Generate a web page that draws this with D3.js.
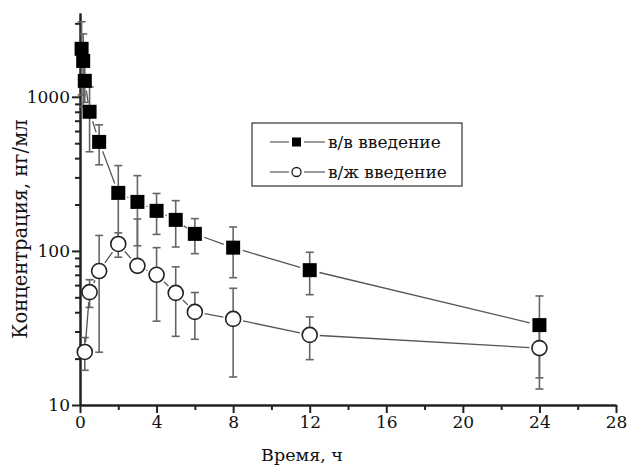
<!DOCTYPE html>
<html>
<head>
<meta charset="utf-8">
<script src="https://cdn.jsdelivr.net/npm/d3@7"></script>
<style>
  body { margin: 0; background: #fff; }
</style>
</head>
<body>
<div id="chart"></div>
<script>
// в/в введение (squares)
var ivTime = [0.083, 0.167, 0.25, 0.5, 1, 2, 3, 4, 5, 6, 8, 12, 24];
var ivConc = [2050, 1710, 1270, 800, 510, 238, 208, 182, 159, 129, 105, 75, 33];
var ivSd = [1020, 850, 350, 360, 148, 120, 100, 54, 53, 33, 38, 23, 18];
// в/ж введение (circles)
var poTime = [0.25, 0.5, 1, 2, 3, 4, 5, 6, 8, 12, 24];
var poConc = [22.1, 54, 74, 111, 80, 70, 53.4, 40.2, 36.2, 28.5, 23.4];
var poSd = [5.3, 11, 52, 20, 81, 35, 25.5, 13.5, 21, 8.8, 10.7];

var xTicks = [0, 4, 8, 12, 16, 20, 24, 28];
var xMinor = [2, 6, 10, 14, 18, 22, 26];
var yTicks = [10, 100, 1000];
var yMinor = [20, 30, 40, 50, 60, 70, 80, 90, 200, 300, 400, 500, 600, 700, 800, 900, 2000, 3000];
var legendNames = ["в/в введение", "в/ж введение"];

// Liberation Serif is not picked up here, DejaVu Serif is
var FONT = "DejaVu Serif";
var width = 627, height = 468;
var svg = d3.select("#chart").append("svg").attr("width", width).attr("height", height)
  .attr("font-family", FONT)

var x = d3.scaleLinear().domain([0, 28]).range([80, 616]);
var y = d3.scaleLog().domain([10, 3500]).range([405, 13]);

//坐标轴
function styleAxis(g) {
  g.attr("font-family", FONT)
  g.select(".domain").attr("stroke", "#222").attr("stroke-width", 2)
  g.selectAll(".tick line").attr("stroke", "#222").attr("stroke-width", 2)
  g.selectAll("text").attr("fill", "#111").attr("font-size", "17px")
}
svg.append("g").attr("transform", "translate(0,405)")
  .call(d3.axisBottom(x).tickValues(xMinor).tickSize(5).tickFormat("").tickSizeOuter(0))
  .call(styleAxis)
svg.append("g").attr("transform", "translate(0,405)")
  .call(d3.axisBottom(x).tickValues(xTicks).tickSize(8).tickPadding(3).tickFormat(d3.format("d")).tickSizeOuter(0))
  .call(styleAxis)
svg.append("g").attr("transform", "translate(80,0)")
  .call(d3.axisLeft(y).tickValues(yMinor).tickSize(5).tickFormat("").tickSizeOuter(0))
  .call(styleAxis)
svg.append("g").attr("transform", "translate(80,0)")
  .call(d3.axisLeft(y).tickValues(yTicks).tickSize(8).tickPadding(2).tickFormat(d3.format("d")).tickSizeOuter(0))
  .call(styleAxis)

svg.append("text").attr("x", 302).attr("y", 461).attr("text-anchor", "middle")
  .attr("font-size", "17.5px").attr("fill", "#111").text("Время, ч")
svg.append("text").attr("transform", "translate(27,229) rotate(-90)").attr("text-anchor", "middle")
  .attr("font-size", "19.5px").attr("fill", "#111").text("Концентрация, нг/мл")

function series(time, conc, sd) {
  return time.map(function (t, i) {
    return { t: t, c: conc[i], sd: sd[i] }
  })
}
var iv = series(ivTime, ivConc, ivSd)
var po = series(poTime, poConc, poSd)

//连线 (gap near markers)
function drawLine(data, gap) {
  var g = svg.append("g")
  for (var i = 0; i < data.length - 1; i++) {
    var x1 = x(data[i].t), y1 = y(data[i].c), x2 = x(data[i + 1].t), y2 = y(data[i + 1].c)
    var len = Math.hypot(x2 - x1, y2 - y1)
    if (len <= gap * 2) continue
    var ux = (x2 - x1) / len, uy = (y2 - y1) / len
    g.append("line")
      .attr("x1", x1 + ux * gap).attr("y1", y1 + uy * gap)
      .attr("x2", x2 - ux * gap).attr("y2", y2 - uy * gap)
      .attr("stroke", "#555").attr("stroke-width", 1.3)
  }
}

//误差线 (lower part skipped when mean - sd <= 0)
function drawErr(data) {
  var g = svg.append("g").attr("stroke", "#666").attr("stroke-width", 1.6)
  data.forEach(function (d) {
    var cx = x(d.t), top = y(d.c + d.sd)
    var low = d.c - d.sd
    var bottom = low > 0 ? y(low) : y(d.c)
    g.append("line").attr("x1", cx).attr("x2", cx).attr("y1", top).attr("y2", bottom)
    g.append("line").attr("x1", cx - 4).attr("x2", cx + 4).attr("y1", top).attr("y2", top)
    if (low > 0) {
      g.append("line").attr("x1", cx - 4).attr("x2", cx + 4).attr("y1", bottom).attr("y2", bottom)
    }
  })
}

drawErr(iv)
drawErr(po)
drawLine(iv, 10)
drawLine(po, 10)

svg.append("g").selectAll("rect").data(iv).enter().append("rect")
  .attr("x", function (d) { return x(d.t) - 7 })
  .attr("y", function (d) { return y(d.c) - 7 })
  .attr("width", 14).attr("height", 14)
  .attr("fill", "#000")

svg.append("g").selectAll("circle").data(po).enter().append("circle")
  .attr("cx", function (d) { return x(d.t) })
  .attr("cy", function (d) { return y(d.c) })
  .attr("r", 7.5)
  .attr("fill", "#fff").attr("stroke", "#222").attr("stroke-width", 1.6)

//图例
var lg = svg.append("g")
lg.append("rect").attr("x", 252).attr("y", 123).attr("width", 210).attr("height", 63)
  .attr("fill", "#fff").attr("stroke", "#333").attr("stroke-width", 1.2)
legendNames.forEach(function (name, i) {
  var ly = 142 + i * 30
  lg.append("line").attr("x1", 270).attr("x2", 289).attr("y1", ly).attr("y2", ly).attr("stroke", "#666").attr("stroke-width", 1.3)
  lg.append("line").attr("x1", 304).attr("x2", 325).attr("y1", ly).attr("y2", ly).attr("stroke", "#666").attr("stroke-width", 1.3)
  if (i == 0) {
    lg.append("rect").attr("x", 292).attr("y", ly - 4.5).attr("width", 9).attr("height", 9).attr("fill", "#000")
  } else {
    lg.append("circle").attr("cx", 296.5).attr("cy", ly).attr("r", 4.5).attr("fill", "#fff").attr("stroke", "#222").attr("stroke-width", 1.3)
  }
  lg.append("text").attr("x", 328).attr("y", ly + 6).attr("font-size", "17px").attr("fill", "#111").text(name)
})
</script>
</body>
</html>
